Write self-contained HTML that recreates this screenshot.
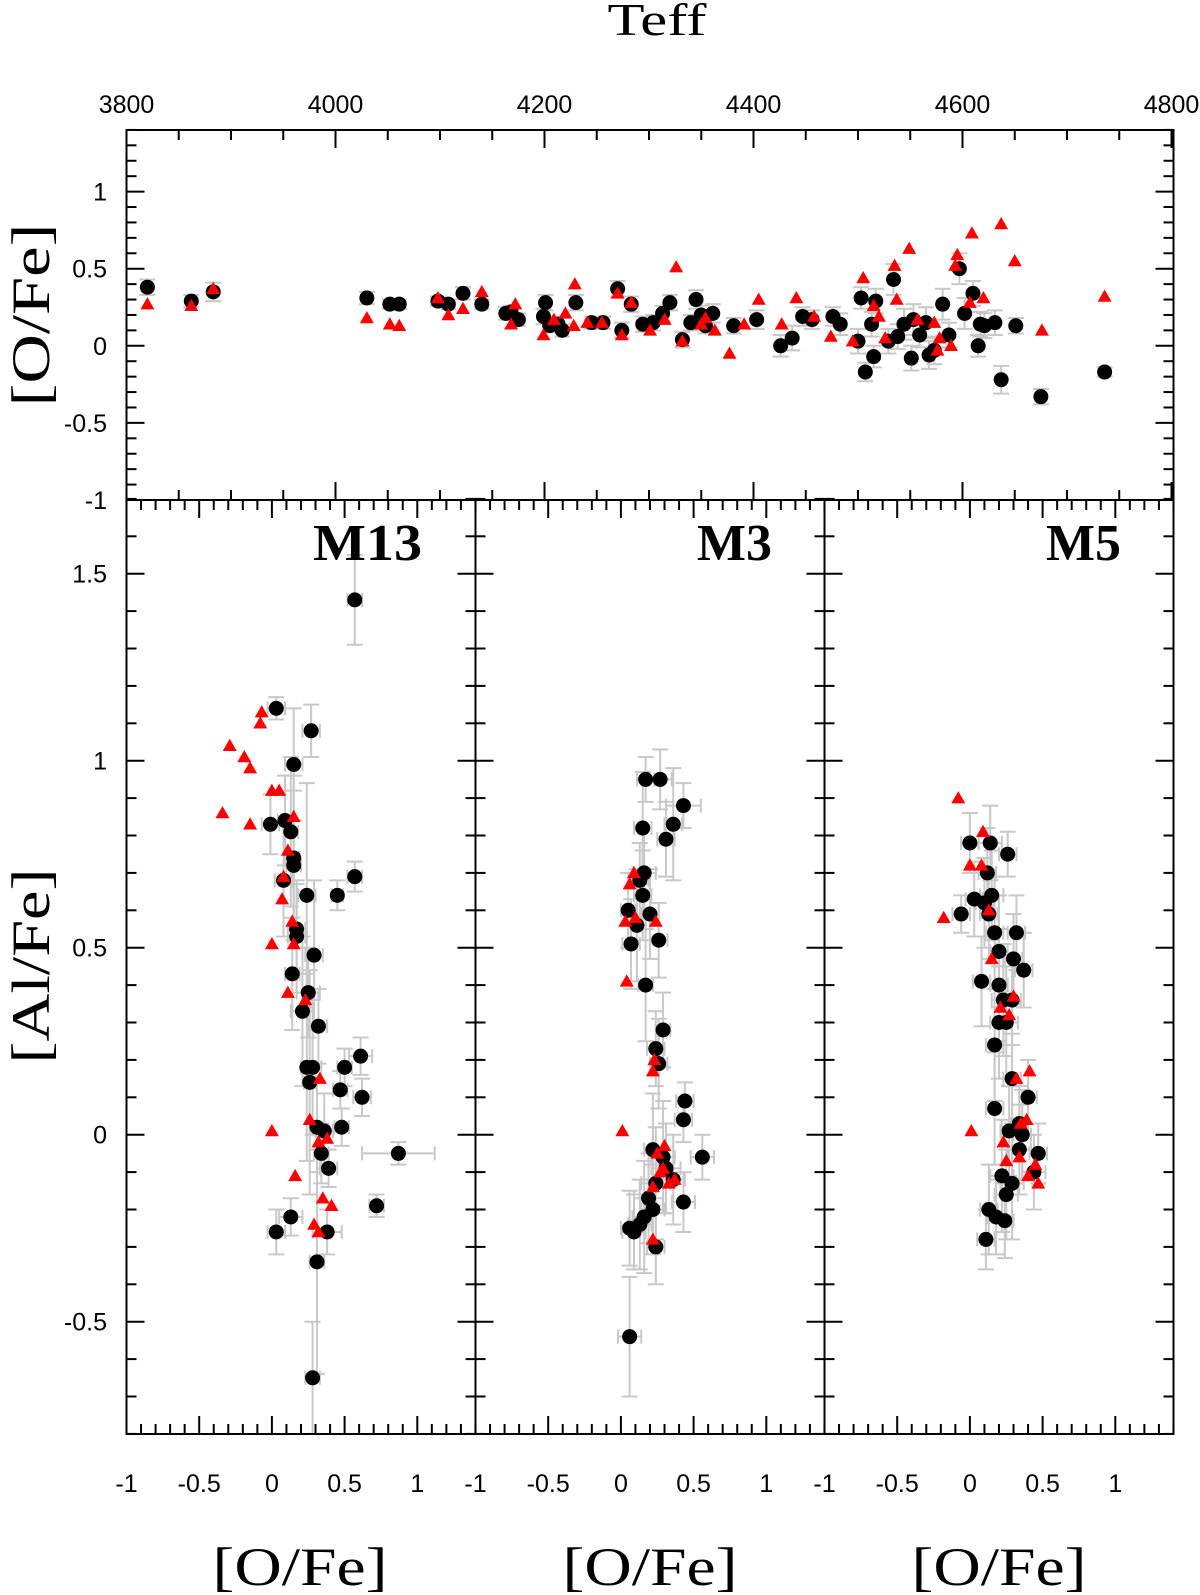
<!DOCTYPE html>
<html><head><meta charset="utf-8"><style>
html,body{margin:0;padding:0;background:#fff;width:1200px;height:1595px;overflow:hidden}
svg text{font-family:"Liberation Sans",sans-serif}
</style></head><body>
<svg id="chart" width="1200" height="1595" viewBox="0 0 1200 1595" xmlns="http://www.w3.org/2000/svg">
<g id="errs"></g>
<g id="marks"></g>
<g id="axes"></g>
<text x="657" y="35" text-anchor="middle" font-size="46" textLength="99" lengthAdjust="spacingAndGlyphs" style="font-family:'Liberation Serif',serif">Teff</text>
<text transform="translate(49,315) rotate(-90)" text-anchor="middle" font-size="54" textLength="183" lengthAdjust="spacingAndGlyphs" style="font-family:'Liberation Serif',serif">[O/Fe]</text>
<text transform="translate(49,966) rotate(-90)" text-anchor="middle" font-size="54" textLength="195" lengthAdjust="spacingAndGlyphs" style="font-family:'Liberation Serif',serif">[Al/Fe]</text>
<text x="300" y="1585" text-anchor="middle" font-size="54" textLength="175" lengthAdjust="spacingAndGlyphs" style="font-family:'Liberation Serif',serif">[O/Fe]</text>
<text x="650" y="1585" text-anchor="middle" font-size="54" textLength="175" lengthAdjust="spacingAndGlyphs" style="font-family:'Liberation Serif',serif">[O/Fe]</text>
<text x="999" y="1585" text-anchor="middle" font-size="54" textLength="175" lengthAdjust="spacingAndGlyphs" style="font-family:'Liberation Serif',serif">[O/Fe]</text>
<text x="313" y="560" font-size="52" font-weight="bold" textLength="109" lengthAdjust="spacingAndGlyphs" style="font-family:'Liberation Serif',serif">M13</text>
<text x="697" y="560" font-size="52" font-weight="bold" textLength="75" lengthAdjust="spacingAndGlyphs" style="font-family:'Liberation Serif',serif">M3</text>
<text x="1046" y="560" font-size="52" font-weight="bold" textLength="75" lengthAdjust="spacingAndGlyphs" style="font-family:'Liberation Serif',serif">M5</text>
</svg>
<script>
// ---- data ----
const teffDots = [[3820,0.38,0.05],[3862,0.29,0.04],[3883,0.35,0.06],[4030,0.31,0.04],[4052,0.27,0.03],[4061,0.27,0.03],[4098,0.29,0.03],[4108,0.27,0.03],[4122,0.34,0.04],[4140,0.27,0.03],[4163,0.21,0.04],[4168,0.22,0.04],[4175,0.17,0.04],[4199,0.19,0.05],[4201,0.28,0.05],[4205,0.13,0.04],[4213,0.14,0.05],[4217,0.10,0.04],[4230,0.28,0.05],[4245,0.15,0.04],[4256,0.15,0.04],[4270,0.37,0.05],[4274,0.10,0.05],[4283,0.27,0.05],[4294,0.14,0.05],[4304,0.15,0.05],[4313,0.21,0.05],[4320,0.28,0.05],[4332,0.04,0.05],[4340,0.15,0.05],[4345,0.30,0.06],[4350,0.20,0.06],[4354,0.13,0.05],[4361,0.21,0.06],[4381,0.13,0.05],[4403,0.17,0.06],[4426,0.00,0.07],[4437,0.05,0.08],[4447,0.19,0.06],[4456,0.17,0.06],[4476,0.19,0.06],[4483,0.14,0.07],[4500,0.03,0.08],[4503,0.31,0.07],[4513,0.14,0.08],[4517,0.29,0.08],[4534,0.43,0.10],[4538,0.06,0.08],[4544,0.14,0.10],[4551,-0.08,0.08],[4507,-0.17,0.06],[4515,-0.07,0.07],[4529,0.03,0.08],[4553,0.17,0.10],[4559,0.07,0.08],[4565,0.15,0.10],[4568,-0.06,0.09],[4573,-0.03,0.09],[4581,0.27,0.10],[4587,0.07,0.08],[4597,0.50,0.10],[4602,0.21,0.10],[4610,0.34,0.08],[4615,0.00,0.07],[4617,0.14,0.08],[4621,0.13,0.08],[4631,0.15,0.08],[4637,-0.22,0.09],[4651,0.13,0.05],[4675,-0.33,0.05],[4736,-0.17,0.03]];
const teffTris = [[3820,0.27],[3862,0.26],[3883,0.37],[4030,0.18],[4052,0.14],[4061,0.13],[4098,0.31],[4108,0.20],[4122,0.24],[4140,0.35],[4168,0.14],[4172,0.27],[4199,0.07],[4209,0.17],[4220,0.21],[4229,0.40],[4228,0.13],[4241,0.15],[4255,0.15],[4270,0.34],[4274,0.07],[4283,0.28],[4301,0.10],[4315,0.17],[4326,0.51],[4332,0.03],[4350,0.14],[4354,0.18],[4363,0.10],[4377,-0.05],[4391,0.14],[4405,0.30],[4427,0.14],[4441,0.31],[4458,0.19],[4474,0.06],[4495,0.03],[4505,0.44],[4515,0.26],[4520,0.19],[4526,0.05],[4537,0.30],[4535,0.52],[4549,0.63],[4557,0.17],[4573,0.15],[4578,0.05],[4576,-0.03],[4589,0.00],[4595,0.59],[4593,0.52],[4607,0.28],[4609,0.73],[4620,0.31],[4637,0.79],[4650,0.55],[4676,0.10],[4736,0.32]];
const m13Dots = [[0.03,1.14,0.06,0.03],[0.27,1.08,0.06,0.07],[0.15,0.99,0.06,0.15],[0.09,0.84,0.05,0.12],[-0.01,0.83,0.06,0.08],[0.13,0.81,0.05,0.20],[0.15,0.74,0.04,0.22],[0.15,0.72,0.05,0.20],[0.08,0.68,0.06,0.15],[0.24,0.64,0.06,0.30],[0.45,0.64,0.04,0.04],[0.57,0.69,0.05,0.04],[0.17,0.55,0.06,0.12],[0.17,0.53,0.06,0.15],[0.14,0.43,0.05,0.15],[0.29,0.48,0.06,0.20],[0.21,0.33,0.08,0.20],[0.25,0.38,0.08,0.12],[0.32,0.29,0.06,0.10],[0.24,0.18,0.04,0.25],[0.28,0.18,0.06,0.18],[0.26,0.14,0.04,0.30],[0.50,0.18,0.05,0.05],[0.61,0.21,0.08,0.05],[0.47,0.12,0.05,0.05],[0.62,0.10,0.06,0.05],[0.31,0.02,0.05,0.12],[0.36,0.01,0.06,0.10],[0.48,0.02,0.05,0.05],[0.34,-0.05,0.05,0.08],[0.39,-0.09,0.06,0.05],[0.87,-0.05,0.25,0.03],[0.72,-0.19,0.05,0.03],[0.13,-0.22,0.08,0.05],[0.03,-0.26,0.06,0.06],[0.38,-0.26,0.10,0.06],[0.31,-0.34,0.05,0.30],[0.57,1.43,0.05,0.12],[0.28,-0.65,0.05,0.15]];
const m13Tris = [[-0.07,1.13],[-0.08,1.10],[-0.29,1.04],[-0.19,1.01],[-0.15,0.98],[0.00,0.92],[0.05,0.92],[-0.34,0.86],[-0.15,0.83],[0.15,0.85],[0.11,0.76],[0.08,0.69],[0.07,0.63],[0.00,0.51],[0.15,0.51],[0.14,0.57],[0.11,0.38],[0.23,0.36],[0.33,0.15],[0.26,0.04],[0.00,0.01],[0.16,-0.11],[0.35,-0.17],[0.41,-0.19],[0.29,-0.24],[0.32,-0.26],[0.38,-0.01],[0.32,-0.02]];
const m3Dots = [[0.17,0.95,0.06,0.06],[0.27,0.95,0.08,0.08],[0.43,0.88,0.12,0.06],[0.36,0.83,0.06,0.15],[0.31,0.79,0.06,0.10],[0.15,0.82,0.06,0.15],[0.16,0.70,0.08,0.12],[0.13,0.68,0.06,0.10],[0.15,0.64,0.06,0.12],[0.05,0.60,0.05,0.10],[0.20,0.59,0.06,0.12],[0.11,0.56,0.06,0.15],[0.26,0.52,0.06,0.10],[0.07,0.51,0.06,0.12],[0.17,0.40,0.05,0.15],[0.29,0.28,0.05,0.10],[0.24,0.23,0.06,0.10],[0.26,0.19,0.06,0.12],[0.44,0.09,0.06,0.05],[0.43,0.04,0.06,0.06],[0.56,-0.06,0.08,0.06],[0.22,-0.04,0.06,0.15],[0.29,-0.06,0.08,0.15],[0.36,-0.12,0.08,0.12],[0.43,-0.18,0.08,0.08],[0.24,-0.13,0.10,0.15],[0.16,-0.22,0.08,0.15],[0.13,-0.24,0.08,0.12],[0.06,-0.25,0.06,0.10],[0.09,-0.26,0.08,0.10],[0.22,-0.20,0.08,0.12],[0.24,-0.30,0.06,0.10],[0.06,-0.54,0.08,0.16],[0.19,-0.17,0.10,0.12],[0.31,-0.09,0.10,0.12]];
const m3Tris = [[0.09,0.70],[0.06,0.67],[0.03,0.57],[0.10,0.58],[0.24,0.57],[0.04,0.41],[0.22,0.17],[0.23,0.20],[0.01,0.01],[0.30,-0.03],[0.27,-0.10],[0.33,-0.13],[0.29,-0.09],[0.22,-0.14],[0.37,-0.12],[0.22,-0.28],[0.25,-0.05]];
const m5Dots = [[0.00,0.78,0.06,0.08],[0.14,0.78,0.08,0.10],[0.26,0.75,0.06,0.06],[0.12,0.70,0.06,0.12],[0.15,0.64,0.08,0.12],[0.03,0.63,0.06,0.10],[0.10,0.62,0.06,0.12],[-0.06,0.59,0.06,0.05],[0.13,0.59,0.06,0.12],[0.17,0.54,0.06,0.15],[0.32,0.54,0.06,0.10],[0.20,0.49,0.06,0.15],[0.30,0.47,0.06,0.12],[0.37,0.44,0.06,0.10],[0.08,0.41,0.06,0.12],[0.20,0.40,0.06,0.15],[0.23,0.36,0.08,0.15],[0.29,0.36,0.06,0.12],[0.20,0.30,0.06,0.15],[0.25,0.30,0.08,0.15],[0.17,0.24,0.06,0.15],[0.29,0.15,0.06,0.12],[0.40,0.10,0.06,0.10],[0.17,0.07,0.06,0.15],[0.27,0.01,0.06,0.12],[0.36,0.00,0.06,0.12],[0.34,0.03,0.06,0.10],[0.47,-0.05,0.06,0.08],[0.44,-0.10,0.08,0.10],[0.22,-0.11,0.08,0.15],[0.29,-0.13,0.08,0.15],[0.25,-0.16,0.08,0.12],[0.13,-0.20,0.06,0.12],[0.18,-0.22,0.06,0.10],[0.24,-0.23,0.06,0.10],[0.11,-0.28,0.06,0.08],[0.34,-0.04,0.08,0.12]];
const m5Tris = [[-0.08,0.90],[0.09,0.81],[0.00,0.72],[0.08,0.72],[-0.18,0.58],[0.13,0.60],[0.15,0.47],[0.27,0.32],[0.21,0.34],[0.30,0.37],[0.41,0.17],[0.32,0.15],[0.01,0.01],[0.35,0.03],[0.39,0.04],[0.34,-0.06],[0.25,-0.07],[0.45,-0.08],[0.47,-0.13],[0.40,-0.11],[0.23,-0.02]];
const teffTicks = [3800,4000,4200,4400,4600,4800];
const ofeTicks = [-1,-0.5,0,0.5,1];
const alTicks = [-0.5,0,0.5,1,1.5];
const oxTicks = [-1,-0.5,0,0.5,1];

// ---- axes scales ----
const NS='http://www.w3.org/2000/svg';
const TOP={l:126.5,r:1173.5,t:130,b:500};
const tx = t => TOP.l + (t-3800)*1.045;
const ty = v => 345.8 - v*154.2;
const PW = 349;
const panels=[{name:'m13',l:126.5,dots:m13Dots,tris:m13Tris},{name:'m3',l:475.5,dots:m3Dots,tris:m3Tris},{name:'m5',l:824.5,dots:m5Dots,tris:m5Tris}];
const bx = (p,o) => p.l + (o+1)*145.4;
const by = a => 1134.7 - a*374;
const errs=document.getElementById('errs'), marks=document.getElementById('marks'), axes=document.getElementById('axes');
function mk(tag,attrs,parent){const e=document.createElementNS(NS,tag);for(const k in attrs)e.setAttribute(k,attrs[k]);parent.appendChild(e);return e;}
function line(x1,y1,x2,y2,parent,col,w){return mk('line',{x1,y1,x2,y2,stroke:col||'#000','stroke-width':w||2},parent);}
function errV(x,y1,y2){line(x,y1,x,y2,errs,'#c8c8c8',2);line(x-8,y1,x+8,y1,errs,'#c8c8c8',2);line(x-8,y2,x+8,y2,errs,'#c8c8c8',2);}
function errH(y,x1,x2){line(x1,y,x2,y,errs,'#c8c8c8',2);line(x1,y-7,x1,y+7,errs,'#c8c8c8',2);line(x2,y-7,x2,y+7,errs,'#c8c8c8',2);}
function dot(x,y){const c=mk('circle',{cx:x,cy:y,r:7.5,fill:'#000'},marks);

}
function tri(x,y){const s=7;const p=mk('polygon',{points:`${x},${y-s} ${x-s},${y+s*0.75} ${x+s},${y+s*0.75}`,fill:'#f00'},marks);

}
function label(x,y,str,anchor){const t=mk('text',{x,y,'text-anchor':anchor,'font-size':25},axes);t.textContent=str;

}

// top panel marks
teffDots.forEach(d=>{errV(tx(d[0]),ty(d[1]+d[2]),ty(d[1]-d[2]));});
teffDots.forEach(d=>dot(tx(d[0]),ty(d[1])));
teffTris.forEach(d=>tri(tx(d[0]),ty(d[1])));
// bottom panels marks
panels.forEach(p=>{
  p.dots.forEach(d=>{errV(bx(p,d[0]),by(d[1]+d[3]),by(d[1]-d[3]));errH(by(d[1]),bx(p,d[0]-d[2]),bx(p,d[0]+d[2]));});
});
panels.forEach(p=>{p.dots.forEach(d=>dot(bx(p,d[0]),by(d[1])));p.tris.forEach(d=>tri(bx(p,d[0]),by(d[1])));});

// frames
const f1=mk('rect',{x:TOP.l,y:TOP.t,width:TOP.r-TOP.l,height:TOP.b-TOP.t,fill:'none',stroke:'#000','stroke-width':2},axes);


panels.forEach(p=>{const r=mk('rect',{x:p.l,y:500,width:PW,height:934,fill:'none',stroke:'#000','stroke-width':2},axes);

});
// top panel ticks
for(let t=3800;t<=4800;t+=50){const x=tx(t);const L=(t%200===0)?18:10;line(x,TOP.t,x,TOP.t+L,axes);line(x,TOP.b,x,TOP.b-L,axes);}
for(let i=-10;i<=14;i++){const v=i/10,y=ty(v);const L=(i%5===0)?18:10;line(TOP.l,y,TOP.l+L,y,axes);line(TOP.r,y,TOP.r-L,y,axes);}
teffTicks.forEach(t=>label(tx(t),113,String(t),'middle'));
ofeTicks.forEach(v=>label(107,ty(v)+9,String(v),'end'));
// bottom ticks
panels.forEach((p,pi)=>{
  for(let i=-10;i<=14;i++){const o=i/10,x=bx(p,o);const L=(i%5===0)?18:10;line(x,500,x,500+L,axes);line(x,1434,x,1434-L,axes);}
  for(let i=-8;i<=17;i++){const a=i/10,y=by(a);const L=(i%5===0)?18:10;line(p.l,y,p.l+L,y,axes);line(p.l+PW,y,p.l+PW-L,y,axes);}
  oxTicks.forEach(o=>label(bx(p,o),1492,String(o),'middle'));
});
alTicks.forEach(a=>label(107,by(a)+9,String(a),'end'));
</script>
</body></html>
